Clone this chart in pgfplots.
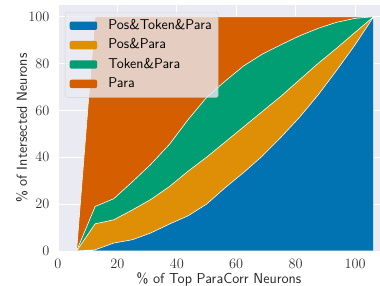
\documentclass[border=0pt]{standalone}
\usepackage{pgfplots}
\pgfplotsset{compat=1.18}
\definecolor{bgc}{HTML}{EAEAF2}
\definecolor{cb}{HTML}{0173B2}
\definecolor{co}{HTML}{DE8F05}
\definecolor{cg}{HTML}{029E73}
\definecolor{cr}{HTML}{D55E00}
\begin{document}
\begin{tikzpicture}
\begin{axis}[
  at={(0,0)}, anchor=south west,
  scale only axis, width=322bp, height=246bp,
  xmin=0, xmax=108.4, ymin=0, ymax=105,
  axis background/.style={fill=bgc},
  axis line style={draw=none},
  grid=major, grid style={white, line width=0.9pt},
  major tick length=0pt,
  xtick={0,20,...,100}, ytick={0,20,...,100},
  tick label style={font=\fontsize{13.5}{15}\selectfont, text=black!80},
  xticklabel style={yshift=-5bp},
  yticklabel style={xshift=-5bp},
  label style={font=\sffamily\fontsize{14.5}{16}\selectfont, text=black!85},
  xlabel={\% of Top ParaCorr Neurons},
  ylabel={\% of Intersected Neurons},
  xlabel style={yshift=3bp},
  ylabel style={yshift=-6bp},
  legend style={at={(0.0217,0.9715)}, anchor=north west, fill=bgc, fill opacity=0.8, text opacity=1, draw=black!20, draw opacity=0.8, rounded corners=2pt, font=\sffamily\fontsize{14.3}{16}\selectfont, row sep=1.4bp, inner sep=4.5bp, nodes={inner sep=2bp, text height=10.5bp, text depth=3.5bp}},
  legend cell align=left,
  legend image code/.code={\fill[#1,draw=none,fill opacity=1] (0bp,-4.2bp) rectangle (27.5bp,4.2bp); \path (36.5bp,0);},
  reverse legend,
  every axis plot/.append style={draw=white, line width=0.6pt},
]
\addplot[fill=cr] coordinates {(6.25,0) (12.5,100) (18.75,100) (25,100) (31.25,100) (37.5,100) (43.75,100) (50,100) (56.25,100) (62.5,100) (68.75,100) (75,100) (81.25,100) (87.5,100) (93.75,100) (100,100) (106.25,100)} \closedcycle;
\addlegendentry{Para}
\addplot[fill=cg] coordinates {(6.25,0) (12.5,19) (18.75,22.3) (25,29.5) (31.25,37) (37.5,45.5) (43.75,56) (50,65.5) (56.25,72.5) (62.5,79) (68.75,84) (75,88) (81.25,91.8) (87.5,95) (93.75,97.6) (100,99.3) (106.25,100)} \closedcycle;
\addlegendentry{Token\&Para}
\addplot[fill=co] coordinates {(6.25,0) (12.5,11.6) (18.75,13.3) (25,17.5) (31.25,22) (37.5,27.5) (43.75,34) (50,40) (56.25,46.5) (62.5,53) (68.75,59.5) (75,66) (81.25,73) (87.5,80) (93.75,86.5) (100,93.3) (106.25,100)} \closedcycle;
\addlegendentry{Pos\&Para}
\addplot[fill=cb] coordinates {(6.25,0) (12.5,0.5) (18.75,3.4) (25,4.8) (31.25,7.7) (37.5,11.5) (43.75,15) (50,20) (56.25,27) (62.5,33.5) (68.75,40.5) (75,48.5) (81.25,57) (87.5,66.5) (93.75,77) (100,88) (106.25,100)} \closedcycle;
\addlegendentry{Pos\&Token\&Para}
\end{axis}
\pgfresetboundingbox
\path (-58bp,-35bp) rectangle (322bp,251bp);
\end{tikzpicture}
\end{document}
